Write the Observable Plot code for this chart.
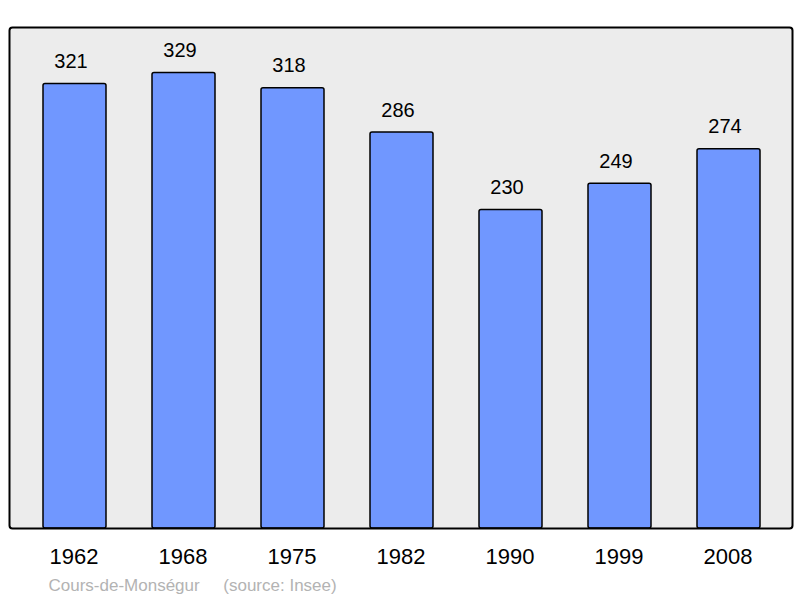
<!DOCTYPE html>
<html>
<head>
<meta charset="utf-8">
<script src="https://cdn.jsdelivr.net/npm/d3@7"></script>
<script src="https://cdn.jsdelivr.net/npm/@observablehq/plot@0.6"></script>
<style>
  body { margin: 0; background: #fff; }
  svg { display: block; }
</style>
</head>
<body>
<div id="chart"></div>
<script>
const years = ["1962", "1968", "1975", "1982", "1990", "1999", "2008"];
const population = [321, 329, 318, 286, 230, 249, 274];
const captionText = "Cours-de-Monségur\u00a0\u00a0\u00a0\u00a0\u00a0(source: Insee)";

const data = years.map((y, i) => ({year: y, pop: population[i]}));
const font = "Liberation Sans, Arial, Helvetica, sans-serif";

const chart = Plot.plot({
  width: 800,
  height: 598,
  marginTop: 27,
  marginBottom: 70,
  marginLeft: 9,
  marginRight: 8,
  style: {fontFamily: font, background: "#fff"},
  x: {domain: years, padding: 0.424, paddingOuter: 0.2175, insetLeft: 9, insetRight: 6.6, label: null},
  y: {domain: [0, Math.max(...population) * 1.1], axis: null},
  marks: [
    Plot.frame({fill: "#ececec", stroke: null, rx: 3}),
    Plot.barY(data, {x: "year", y: "pop", fill: "#7097ff", stroke: "#000", strokeWidth: 1.5, rx: 2}),
    Plot.frame({stroke: "#000", strokeWidth: 2, rx: 3, fill: "none"}),
    Plot.text(data, {x: "year", y: "pop", text: d => String(d.pop), dx: -4, dy: -16, lineAnchor: "bottom", fontSize: 20, fill: "#000"}),
    Plot.axisX({tickSize: 0, tickPadding: 20, fontSize: 22, fill: "#000", label: null, dx: -1}),
    Plot.text([captionText], {frameAnchor: "bottom-left", dx: 39, dy: 62, lineAnchor: "bottom", textAnchor: "start", fontSize: 17, fill: "#b3b3b3"})
  ]
});
document.getElementById("chart").appendChild(chart);
</script>
</body>
</html>
